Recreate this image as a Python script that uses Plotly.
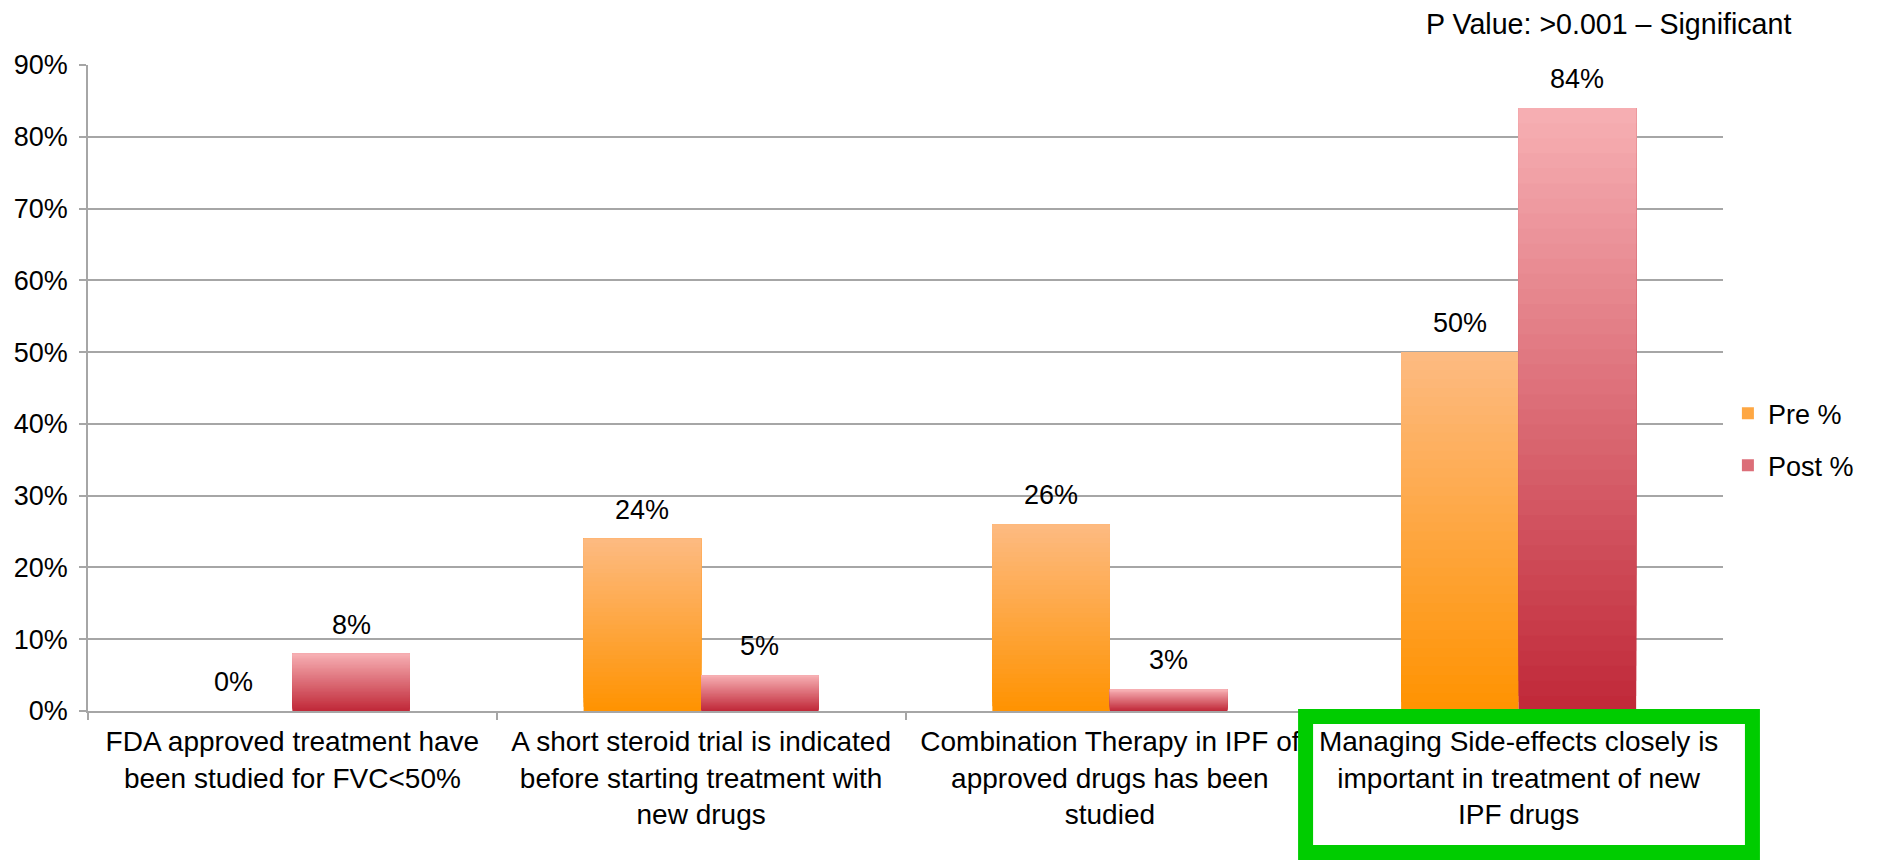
import plotly.graph_objects as go

# ---- data ----
categories = ["FDA", "Steroid", "Combination", "SideEffects"]
tick_labels = [
    "FDA approved treatment have<br>been studied for FVC&lt;50%",
    "A short steroid trial is indicated<br>before starting treatment with<br>new drugs",
    "Combination Therapy in IPF of<br>approved drugs has been<br>studied",
    "Managing Side-effects closely is<br>important in treatment of new<br>IPF drugs",
]
pre_values = [0, 24, 26, 50]
post_values = [8, 5, 3, 84]
series_names = ["Pre %", "Post %"]
y_ticks = [0, 10, 20, 30, 40, 50, 60, 70, 80, 90]
y_tick_labels = ["0%", "10%", "20%", "30%", "40%", "50%", "60%", "70%", "80%", "90%"]
note_text = "P Value: >0.001 \u2013 Significant"

# ---- style ----
FONT = "Liberation Sans, Arial, Helvetica, sans-serif"
FS = 28
GRID = "#A6A6A6"
BARGAP = 0.425
N_SEG = 40
pre_colors = ((255, 147, 0), (253, 186, 130))     # bottom, top
post_colors = ((192, 40, 56), (247, 176, 180))


def lerp(c0, c1, t):
    return "rgb(%d,%d,%d)" % tuple(round(a + (b - a) * t) for a, b in zip(c0, c1))


fig = go.Figure()
for name, vals, cols, grp in [
    (series_names[0], pre_values, pre_colors, "pre"),
    (series_names[1], post_values, post_colors, "post"),
]:
    for k in range(N_SEG):
        t = (k + 0.5) / N_SEG
        # each slice spans from its own start up to the bar top; later slices overlay earlier ones
        fig.add_trace(go.Bar(
            x=categories,
            y=[v * (N_SEG - k) / N_SEG for v in vals],
            base=[v * k / N_SEG for v in vals],
            marker=dict(color=lerp(cols[0], cols[1], t), line=dict(width=0)),
            offsetgroup=grp,
            legendgroup=grp,
            name=name,
            showlegend=(k == N_SEG // 2),
            hoverinfo="skip",
        ))

# data labels
half = (1 - BARGAP) / 4
annotations = []
for i, (a, b) in enumerate(zip(pre_values, post_values)):
    for off, v in ((-half, a), (half, b)):
        annotations.append(dict(
            x=i + off, y=v, xref="x", yref="y", text="%d%%" % v,
            showarrow=False, yanchor="middle", yshift=29,
            font=dict(size=FS - 1, color="black", family=FONT),
        ))
annotations.append(dict(
    x=0.93, y=1.0635, xref="paper", yref="paper", text=note_text,
    showarrow=False, xanchor="center", yanchor="middle",
    font=dict(size=FS + 0.6, color="black", family=FONT),
))

fig.update_layout(
    width=1880, height=864,
    margin=dict(l=88, r=157, t=65, b=153, autoexpand=False),
    paper_bgcolor="white", plot_bgcolor="white",
    barmode="group", bargap=BARGAP, bargroupgap=0,
    font=dict(family=FONT, size=FS, color="black"),
    annotations=annotations,
    legend=dict(
        x=1.003, y=0.42, xanchor="left", yanchor="middle",
        font=dict(size=FS - 1, family=FONT, color="black"),
        traceorder="grouped", tracegroupgap=14,
        bgcolor="rgba(0,0,0,0)",
    ),
    shapes=[dict(
        type="rect", xref="paper", yref="paper",
        x0=0.7447, x1=1.018, y0=-0.219, y1=-0.0085,
        line=dict(color="#00CC00", width=15), fillcolor="rgba(0,0,0,0)",
        layer="above",
    )],
)
fig.update_xaxes(
    tickvals=categories, ticktext=tick_labels, tickangle=0, automargin=False,
    showline=True, linecolor=GRID, linewidth=1.5,
    ticks="outside", ticklen=7, tickcolor=GRID, tickwidth=1.5,
    tickson="boundaries", showgrid=False,
    tickfont=dict(size=FS, family=FONT, color="black"),
    ticklabelstandoff=5,
)
fig.update_yaxes(
    range=[0, 90], tickvals=y_ticks, ticktext=y_tick_labels, automargin=False,
    showline=True, linecolor=GRID, linewidth=1.5,
    ticks="outside", ticklen=7, tickcolor=GRID, tickwidth=1.5,
    showgrid=True, gridcolor=GRID, gridwidth=1.5, zeroline=False,
    tickfont=dict(size=FS - 1, family=FONT, color="black"),
    ticklabelstandoff=6,
)

fig.write_html("out.html")
